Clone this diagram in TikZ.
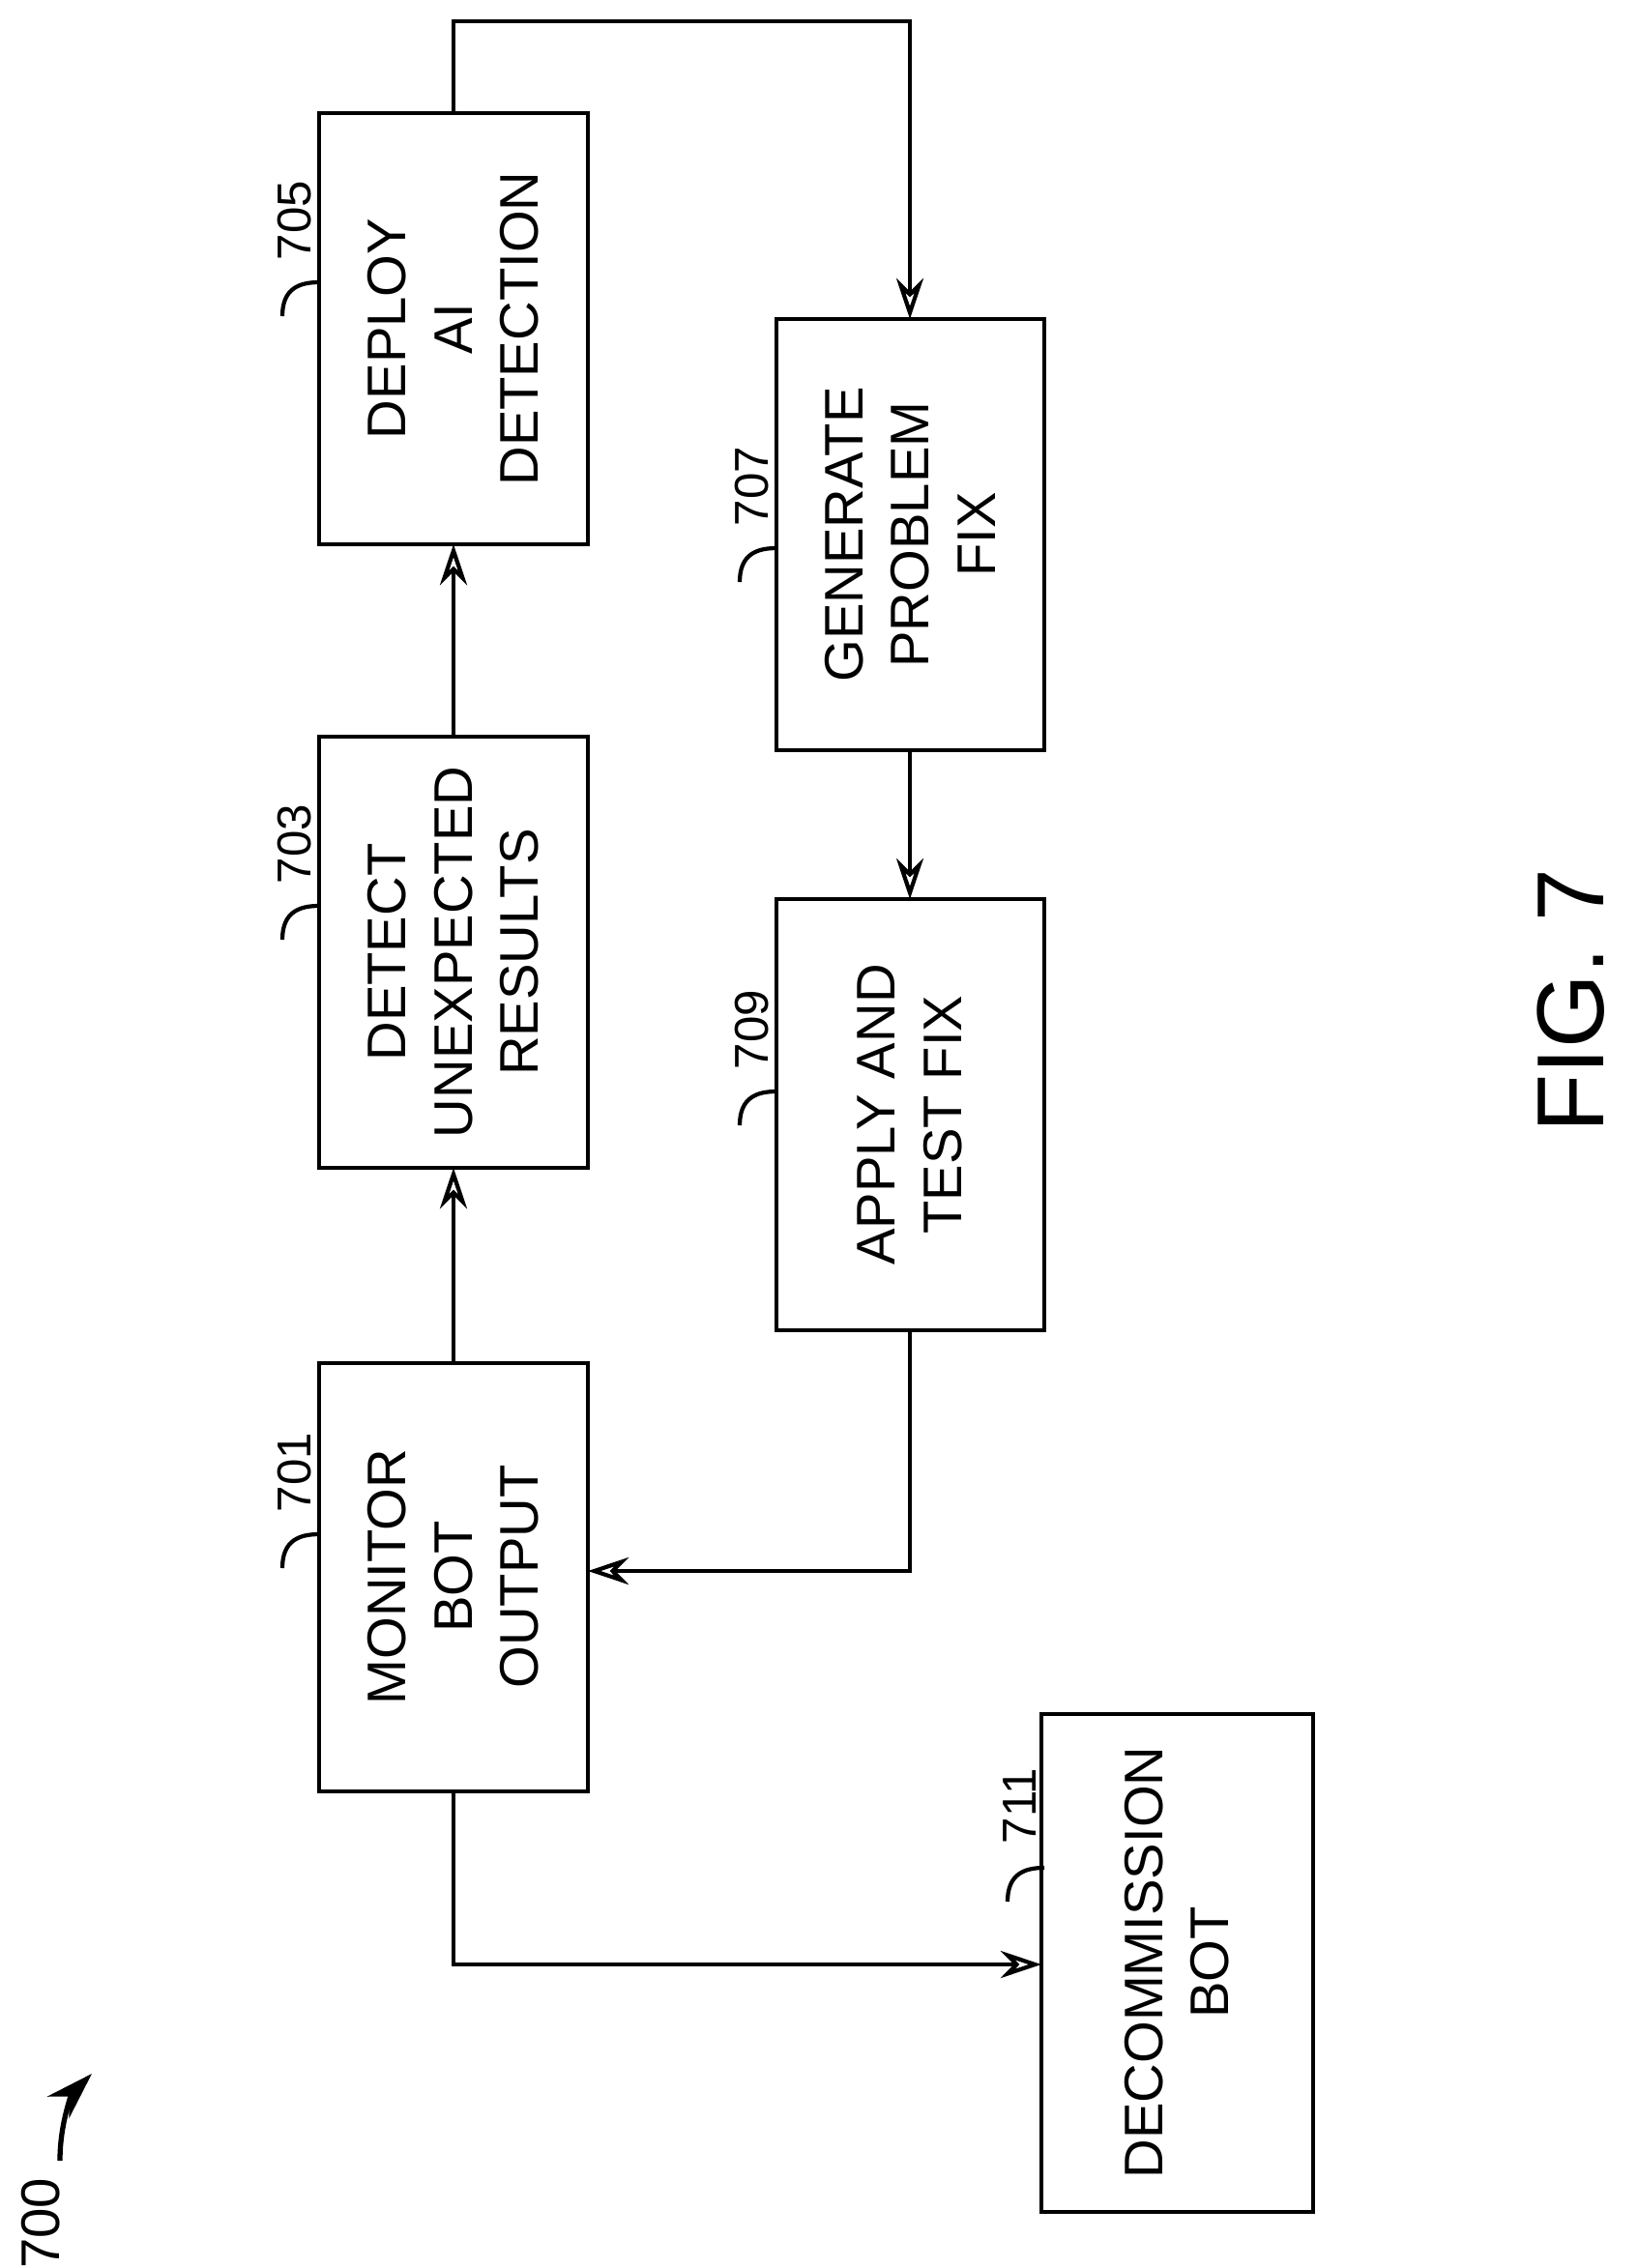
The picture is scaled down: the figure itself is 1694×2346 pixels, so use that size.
\documentclass[tikz,border=0pt]{standalone}
\usepackage{fontspec}
\setmainfont{Liberation Sans}
\usetikzlibrary{arrows.meta}
\begin{document}
\begin{tikzpicture}[x=0.1mm,y=-0.1mm,
 box/.style={draw,line width=1.2pt,inner sep=0},
 txt/.style={rotate=90,align=center,font=\fontsize{16}{19.5}\selectfont},
 lab/.style={rotate=90,font=\fontsize{14}{16}\selectfont},
 arr/.style={line width=1.2pt,-{Stealth[length=12pt,width=8pt,open]}},
 ln/.style={line width=1.2pt}]
\useasboundingbox (0,0) rectangle (1694,2346);
\draw[box] (330,117) rectangle (608,563); \node[txt] (t705) at (469,340) {DEPLOY\\AI\\DETECTION};
\draw[box] (330,762) rectangle (608,1208); \node[txt] (t703) at (469,985) {DETECT\\UNEXPECTED\\RESULTS};
\draw[box] (330,1410) rectangle (608,1853); \node[txt] (t701) at (469,1631) {MONITOR\\BOT\\OUTPUT};
\draw[box] (803,330) rectangle (1080,776); \node[txt] (t707) at (941,553) {GENERATE\\PROBLEM\\FIX};
\draw[box] (803,930) rectangle (1080,1376); \node[txt] (t709) at (941,1153) {APPLY AND\\TEST FIX};
\draw[box] (1077,1773) rectangle (1358,2288); \node[txt] (t711) at (1217,2030) {DECOMMISSION\\BOT};
\coordinate (b701t) at (469,1410); \coordinate (b703b) at (469,1208);
\coordinate (b703t) at (469,762); \coordinate (b705b) at (469,563);
\coordinate (b705t) at (469,117); \coordinate (b707t) at (941,330);
\coordinate (b707b) at (941,776); \coordinate (b709t) at (941,930);
\coordinate (b709b) at (941,1376); \coordinate (b701r) at (608,1625);
\coordinate (b701b) at (469,1853); \coordinate (b711l) at (1077,2032);
\draw[arr] (b701t) -- (b703b);
\draw[arr] (b703t) -- (b705b);
\draw[arr] (b705t) -- (469,22) -- (941,22) -- (b707t);
\draw[arr] (b707b) -- (b709t);
\draw[arr] (b709b) -- (941,1625) -- (b701r);
\draw[arr] (b701b) -- (469,2032) -- (b711l);
\foreach \n/\x/\y in {705/305/228,703/305/873,701/305/1523,707/778/503,709/778/1065,711/1055/1868}{
 \node[lab] (l\n) at (\x,\y) {\n};
 \draw[ln] (\x-13,\y+99) .. controls (\x-13,\y+70) and (\x+5,\y+64) .. (\x+25,\y+64);
}
\node[rotate=90,font=\fontsize{28}{32}\selectfont] (fig) at (1625,1035) {FIG. 7};
\node[lab,font=\fontsize{16}{18}\selectfont] (l700) at (42,2300) {700};
\draw[line width=1.5pt,-{Stealth[length=14pt,width=9pt]}] (62,2235) .. controls (62,2195) and (75,2165) .. (95,2145);
\end{tikzpicture}
\end{document}
